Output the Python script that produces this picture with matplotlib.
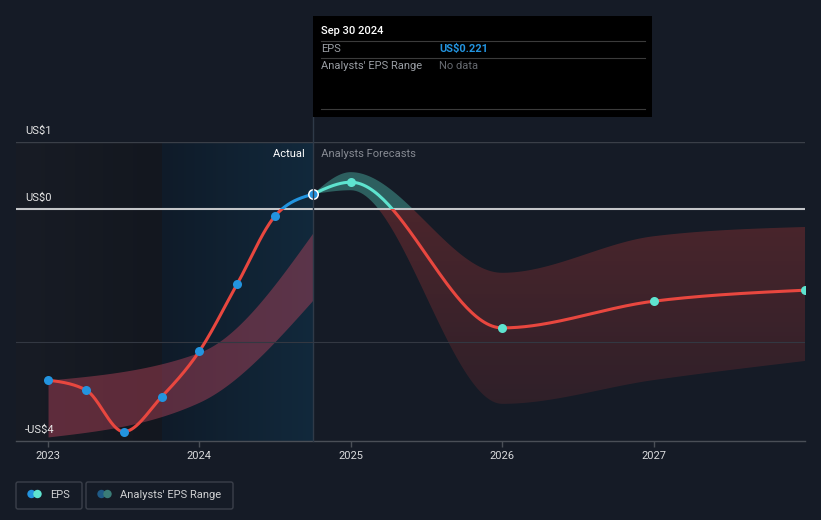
import numpy as np
import matplotlib
matplotlib.use("Agg")
from matplotlib import pyplot as plt
from matplotlib import colors as mcolors
import matplotlib.transforms as mtrans
from matplotlib.patches import Rectangle, FancyBboxPatch, Circle
from matplotlib.lines import Line2D
from matplotlib.transforms import IdentityTransform, blended_transform_factory

plt.rcParams['font.family'] = ['Roboto', 'DejaVu Sans']

# ---- data (EPS, US$) ----
actual_x = [2023.0, 2023.25, 2023.5, 2023.75, 2024.0, 2024.25, 2024.5, 2024.75]
actual_eps = [-2.95, -3.12, -3.84, -3.24, -2.45, -1.29, -0.12, 0.221]

past_band_x = [2023.0, 2024.0, 2024.75]
past_band_hi = [-2.95, -2.47, -0.41]
past_band_lo = [-3.93, -3.33, -1.57]

fc_x = [2024.75, 2025.0, 2026.0, 2027.0, 2028.0]
fc_eps = [0.221, 0.40, -2.05, -1.59, -1.40]
fc_hi = [0.221, 0.55, -1.10, -0.47, -0.31]
fc_lo = [0.221, 0.28, -3.36, -2.95, -2.62]

year_ticks = [2023, 2024, 2025, 2026, 2027]
y_labels = {1: "US$1", 0: "US$0", -4: "-US$4"}
grid_vals = [1, 0, -2.29]

BG = '#151b26'
RED = '#e8473f'
BLUE = '#2394df'
TEAL = '#5ee3cf'
W, H = 821, 520
K = 67 / 58.0


def fwd(y):
    y = np.asarray(y, dtype=float)
    return np.where(y > 0, y * K, y)


def inv(t):
    t = np.asarray(t, dtype=float)
    return np.where(t > 0, t / K, t)


def monotone(xs, ys, n=60):
    # d3 curveMonotoneX style, computed in screen (scaled) space
    xs = np.asarray(xs, float)
    ys = fwd(ys)
    h = np.diff(xs)
    s = np.diff(ys) / h
    m = np.zeros(len(xs))
    for i in range(1, len(xs) - 1):
        p = (s[i - 1] * h[i] + s[i] * h[i - 1]) / (h[i - 1] + h[i])
        m[i] = (np.sign(s[i - 1]) + np.sign(s[i])) * min(abs(s[i - 1]), abs(s[i]), 0.5 * abs(p))
    if len(xs) > 2:
        m[0] = (3 * s[0] - m[1]) / 2
        m[-1] = (3 * s[-1] - m[-2]) / 2
    else:
        m[:] = s[0]
    ox, oy = [], []
    for i in range(len(xs) - 1):
        t = np.linspace(0, 1, n, endpoint=(i == len(xs) - 2))
        h00 = 2 * t**3 - 3 * t**2 + 1
        h10 = t**3 - 2 * t**2 + t
        h01 = -2 * t**3 + 3 * t**2
        h11 = t**3 - t**2
        ox.append(xs[i] + t * h[i])
        oy.append(h00 * ys[i] + h10 * h[i] * m[i] + h01 * ys[i + 1] + h11 * h[i] * m[i + 1])
    return np.concatenate(ox), inv(np.concatenate(oy))


def px(x, y):
    return x / W, 1 - y / H


fig = plt.figure(figsize=(W / 100, H / 100), dpi=100, facecolor=BG)
ax = fig.add_axes([16 / W, 1 - 441 / H, 789 / W, 299 / H])
ax.set_facecolor(BG)
ax.set_yscale('function', functions=(fwd, inv))
X0 = 2023 + (16 - 48) / 151.25
X1 = 2028.0
Y0, Y1 = -4, 1
ZF = (0 - fwd(Y0)) / (fwd(Y1) - fwd(Y0))


def axfrac(x):
    return (x - X0) / (X1 - X0)


def hgrad(x0, x1, c0, c1):
    c0 = np.array(mcolors.to_rgb(c0))
    c1 = np.array(mcolors.to_rgb(c1))
    t = np.linspace(0, 1, 200)[None, :, None]
    img = c0 * (1 - t) + c1 * t
    ax.imshow(img, extent=[axfrac(x0), axfrac(x1), 0, 1], transform=ax.transAxes,
              aspect='auto', zorder=0, interpolation='bilinear')


# background regions
hgrad(X0, actual_x[3], '#181c25', '#13171f')
hgrad(actual_x[3], actual_x[-1], '#0f1b29', '#12293c')

# past analyst band
bx, bhi = monotone(past_band_x, past_band_hi)
_, blo = monotone(past_band_x, past_band_lo)
ax.fill_between(bx, blo, bhi, color='#c4475f', alpha=0.42, lw=0, zorder=1)

# forecast band with gradient
fx_, fhi = monotone(fc_x, fc_hi)
_, flo = monotone(fc_x, fc_lo)
poly = ax.fill_between(fx_, flo, fhi, color='none', lw=0, zorder=1)
rows = 600
f = (np.arange(rows) + 0.5) / rows
img = np.zeros((rows, 2, 4))
red_a = np.clip(0.16 + (f - 0.171) / (0.739 - 0.171) * 0.14, 0.12, 0.31)
for i, fr in enumerate(f):
    if fr >= ZF:
        img[i, :, :] = [0.35, 0.86, 0.78, 0.36]
    else:
        img[i, :, :] = [0.78, 0.24, 0.23, red_a[i]]
im = ax.imshow(img, extent=[0, 1, 0, 1], transform=ax.transAxes, origin='lower',
               aspect='auto', zorder=1, interpolation='nearest')
im.set_clip_path(poly.get_paths()[0], ax.transData)

# grid lines
ax.axhline(grid_vals[0], color='#3a3f48', lw=1, zorder=2)
ax.axhline(grid_vals[1], color='#c4c6c9', lw=1.5, zorder=2)
ax.axhline(grid_vals[2], color='#333842', lw=0.8, zorder=2)

# clip rectangles for sign colouring
above = Rectangle((0, ZF), 1, 2, transform=ax.transAxes)
below = Rectangle((0, -1), 1, ZF + 1, transform=ax.transAxes)

ax_x, ax_y = monotone(actual_x, actual_eps)
fcx, fcy = monotone(fc_x, fc_eps)
for xs, ys, col in [(ax_x, ax_y, BLUE), (fcx, fcy, TEAL)]:
    l1, = ax.plot(xs, ys, color=RED, lw=2.2, zorder=3, solid_capstyle='round')
    l1.set_clip_path(below)
    l2, = ax.plot(xs, ys, color=col, lw=2.2, zorder=3, solid_capstyle='round')
    l2.set_clip_path(above)

ax.plot(actual_x[:-1], actual_eps[:-1], 'o', color=BLUE, ms=6.5, mew=0, zorder=4)
ax.plot(fc_x[1:], fc_eps[1:], 'o', color=TEAL, ms=6.5, mew=0, zorder=4)
ax.plot(actual_x[-1:], actual_eps[-1:], 'o', color=BLUE, ms=6.8, mec='white', mew=1.1, zorder=5)

ax.set_xlim(X0, X1)
ax.set_ylim(Y0, Y1)
for sp in ['top', 'right', 'left']:
    ax.spines[sp].set_visible(False)
ax.spines['bottom'].set_color('#4a4f57')
ax.spines['bottom'].set_linewidth(1)
ax.set_yticks([])
ax.set_xticks(year_ticks)
ax.set_xticklabels([str(y) for y in year_ticks])
ax.tick_params(axis='x', length=4, width=1, color='#4a4f57', labelcolor='#d9dadc',
               labelsize=8, pad=3.5)

# y labels just above their lines
tr = blended_transform_factory(ax.transAxes, ax.transData)
tr_lift = mtrans.offset_copy(tr, fig=fig, x=0, y=4, units='points')
for v, lab in y_labels.items():
    ax.text(9 / 789, v, lab, transform=tr_lift, ha='left', va='bottom', color='#e6e6e6',
            fontsize=8, zorder=6)

# actual / forecast header
trx = blended_transform_factory(ax.transData, ax.transAxes)
ax.text(actual_x[-1], 0.96, "Actual   ", transform=trx, ha='right', va='center',
        color='#ffffff', fontsize=8)
ax.text(actual_x[-1], 0.96, "   Analysts Forecasts", transform=trx, ha='left', va='center',
        color='#868a92', fontsize=8)

# cursor line
xl = 16 + (actual_x[-1] - X0) * 151.25
fig.add_artist(Line2D([xl / W, xl / W], [1 - 117 / H, 1 - 441 / H], color='#2f3a48',
                      lw=1, transform=fig.transFigure, zorder=2))

# tooltip
fig.add_artist(Rectangle(px(313, 117), 339 / W, 101 / H, transform=fig.transFigure,
                         facecolor='black', edgecolor='none', zorder=5))
for yy in [41, 58, 109]:
    fig.add_artist(Line2D([321 / W, 645 / W], [1 - yy / H] * 2, color='#3b3b3b', lw=0.8,
                          transform=fig.transFigure, zorder=6))
fig.text(*px(321, 31), "Sep 30 2024", color='white', fontsize=8, fontweight='medium',
         va='center', zorder=7)
fig.text(*px(321, 49), "EPS", color='#9a9ea4', fontsize=8, va='center', zorder=7)
fig.text(*px(439, 49), "US$0.221", color=BLUE, fontsize=8, fontweight='bold', va='center', zorder=7)
fig.text(*px(321, 66), "Analysts' EPS Range", color='#9a9ea4', fontsize=8, va='center', zorder=7)
fig.text(*px(439, 66), "No data", color='#666a70', fontsize=8, va='center', zorder=7)

# legend
idt = IdentityTransform()
for (x0, x1, c_a, c_b, lab) in [(16, 82, BLUE, TEAL, "EPS"),
                                (86, 233, '#1f5a86', '#3a7c77', "Analysts' EPS Range")]:
    fig.add_artist(FancyBboxPatch((x0, H - 509), x1 - x0, 27, boxstyle='round,pad=0,rounding_size=2',
                                  transform=idt, facecolor='none', edgecolor='#3b404a', lw=1))
    fig.add_artist(Circle((x0 + 15.5, H - 494), 4.2, transform=idt, facecolor=c_a, edgecolor='none'))
    fig.add_artist(Circle((x0 + 21.5, H - 494), 4.2, transform=idt, facecolor=c_b, edgecolor='none'))
    fig.text(*px(x0 + 34.5, 495), lab, color='#cfd0d2', fontsize=8, va='center')

fig.savefig('out.png', dpi=100, facecolor=BG)
